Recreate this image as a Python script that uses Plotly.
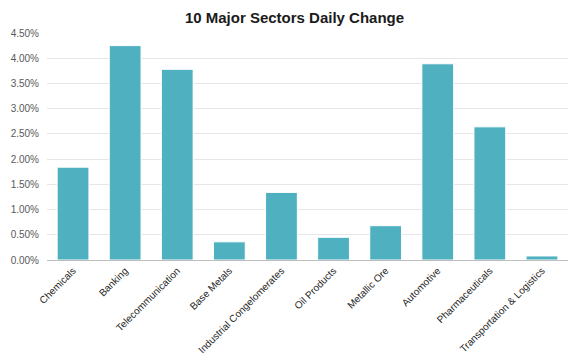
import plotly.graph_objects as go

categories = ["Chemicals", "Banking", "Telecommunication", "Base Metals",
              "Industrial Congelomerates", "Oil Products", "Metallic Ore",
              "Automotive", "Pharmaceuticals", "Transportation & Logistics"]
daily_change = [0.0184, 0.0425, 0.0378, 0.0036, 0.0134, 0.0045, 0.0068,
                0.0389, 0.0264, 0.0008]
y_ticks = [0.0, 0.005, 0.01, 0.015, 0.02, 0.025, 0.03, 0.035, 0.04, 0.045]

fig = go.Figure(go.Bar(
    x=categories, y=daily_change,
    marker=dict(color="#4FB0C0", line=dict(color="#FFFFFF", width=1)),
))

# page body has an 8px margin, so the figure is offset by (8, 8)
fig.update_layout(
    width=573, height=353,
    margin=dict(l=39, r=13, t=25, b=101, autoexpand=False),
    paper_bgcolor="white", plot_bgcolor="white",
    bargap=0.39,
    showlegend=False,
    title=dict(text="<b>10 Major Sectors Daily Change</b>", x=0.5, xanchor="center",
               xref="container",
               y=0.972, yanchor="middle",
               font=dict(family="Liberation Sans, Arial", size=15, color="#1a1a1a")),
    font=dict(family="Liberation Sans, Arial"),
)
fig.update_xaxes(
    tickangle=-45, tickfont=dict(size=10, color="#1f1f1f",
                                 family="Liberation Sans Narrow, Liberation Sans, Arial"),
    showline=True, linecolor="#BFBFBF", linewidth=1, ticks="", showgrid=False,
)
fig.update_yaxes(
    range=[0, 0.045], tickvals=y_ticks, tickformat=".2%",
    tickfont=dict(size=10, color="#595959"),
    ticklabelstandoff=7,
    showgrid=True, gridcolor="#E6E6E6", gridwidth=1, zeroline=False,
    ticks="", showline=False,
)

fig.write_html("out.html")
